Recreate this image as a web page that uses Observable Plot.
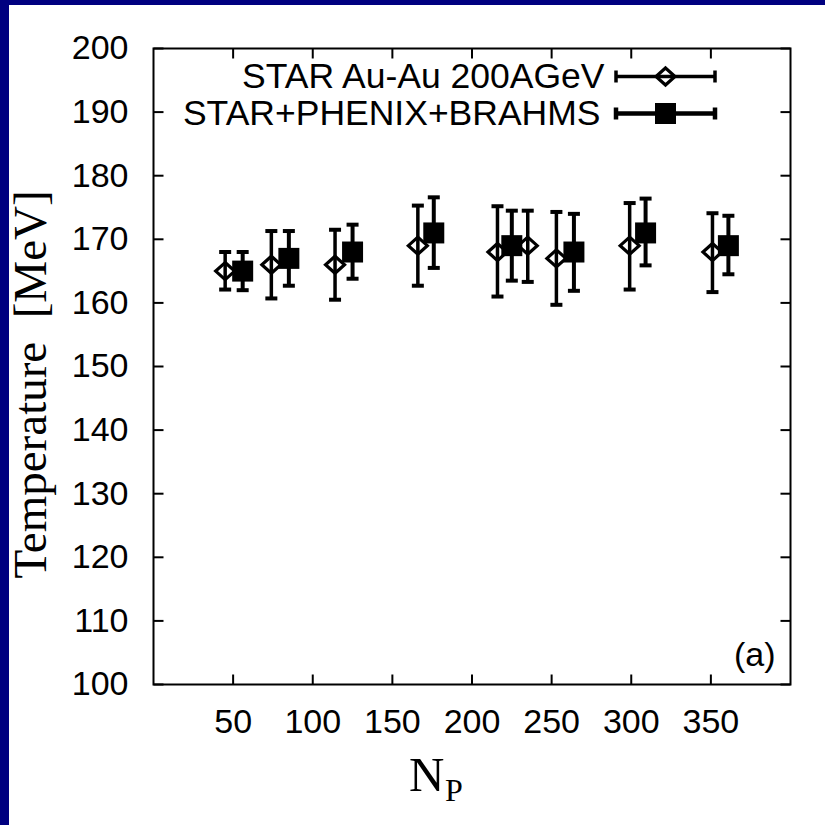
<!DOCTYPE html>
<html>
<head>
<meta charset="utf-8">
<script src="https://cdn.jsdelivr.net/npm/d3@7"></script>
<script src="https://cdn.jsdelivr.net/npm/@observablehq/plot@0.6"></script>
<style>
  html, body { margin: 0; padding: 0; background: #000080; width: 825px; height: 825px; overflow: hidden; }
  #chart { position: absolute; left: 9px; top: 5px; width: 816px; height: 820px; background: #ffffff; }
  #chart svg { display: block; overflow: visible; }
</style>
</head>
<body>
<div id="chart"></div>
<script>
// STAR Au-Au 200 AGeV: participants, temperature and error-bar limits (MeV)
const starNp = [45, 74, 114, 166, 216, 235, 253, 299, 351];
const starT  = [165, 166, 166, 169, 168, 169, 167, 169, 168];
const starLo = [162.1, 160.7, 160.5, 162.7, 161.0, 163.3, 159.7, 162.1, 161.7];
const starHi = [168.0, 171.3, 171.5, 175.3, 175.2, 174.5, 174.3, 175.7, 174.1];

// STAR+PHENIX+BRAHMS combined fit
const combNp = [56, 85, 125, 176, 225, 264, 309, 361];
const combT  = [165, 167, 168, 171, 169, 168, 171, 169];
const combLo = [162.0, 162.7, 163.8, 165.5, 163.5, 161.9, 165.9, 164.5];
const combHi = [168.0, 171.3, 172.3, 176.6, 174.5, 174.0, 176.4, 173.7];

const seriesNames = ["STAR Au-Au 200AGeV", "STAR+PHENIX+BRAHMS"];
const xTicks = [50, 100, 150, 200, 250, 300, 350];
const yTicks = [100, 110, 120, 130, 140, 150, 160, 170, 180, 190, 200];

const star = starNp.map((np, i) => ({np, t: starT[i], lo: starLo[i], hi: starHi[i]}));
const comb = combNp.map((np, i) => ({np, t: combT[i], lo: combLo[i], hi: combHi[i]}));

// custom symbols; the radius r (size = PI*r^2) sets the extent
const rad = (size) => Math.sqrt(size / Math.PI);
const tickUp    = {draw(c, s) { c.moveTo(0, 0); c.lineTo(0, -rad(s)); }};
const tickDown  = {draw(c, s) { c.moveTo(0, 0); c.lineTo(0, rad(s)); }};
const tickRight = {draw(c, s) { c.moveTo(0, 0); c.lineTo(rad(s), 0); }};
const tickLeft  = {draw(c, s) { c.moveTo(0, 0); c.lineTo(-rad(s), 0); }};
const cap       = {draw(c, s) { const w = rad(s); c.moveTo(-w, 0); c.lineTo(w, 0); }};
const diamond   = {draw(c, s) { const r = rad(s); c.moveTo(0, -r * 0.9); c.lineTo(r, 0); c.lineTo(0, r * 0.9); c.lineTo(-r, 0); c.closePath(); }};
const square    = {draw(c, s) { const r = rad(s); c.rect(-r, -r, 2 * r, 2 * r); }};
// horizontal error bar used as legend sample
const hbar      = {draw(c, s) { const w = rad(s); c.moveTo(-w, 0); c.lineTo(w, 0); c.moveTo(-w, -6); c.lineTo(-w, 6); c.moveTo(w, -6); c.lineTo(w, 6); }};

const sans = "'Liberation Sans', Arial, Helvetica, sans-serif";
const serif = "'Liberation Serif', 'Times New Roman', serif";

const errorBars = (data, width) => [
  Plot.ruleX(data, {x: "np", y1: "lo", y2: "hi", stroke: "black", strokeWidth: width}),
  Plot.dot(data, {x: "np", y: "lo", symbol: cap, r: 6, stroke: "black", strokeWidth: 4, fill: "none"}),
  Plot.dot(data, {x: "np", y: "hi", symbol: cap, r: 6, stroke: "black", strokeWidth: 4, fill: "none"})
];

const chart = Plot.plot({
  width: 816,
  height: 820,
  marginLeft: 144,
  marginRight: 35,
  marginTop: 43,
  marginBottom: 141,
  x: {domain: [0, 400]},
  y: {domain: [100, 200]},
  style: {background: "white", color: "black", fontFamily: sans, fontSize: "34px", overflow: "visible"},
  marks: [
    Plot.frame({stroke: "black", strokeWidth: 2}),
    Plot.axisX(xTicks, {anchor: "bottom", tickSize: 0, tickPadding: 24, label: null, fontSize: 34}),
    Plot.axisY(yTicks, {anchor: "left", tickSize: 0, tickPadding: 25, label: null, fontSize: 34}),
    // inward ticks on all four sides
    Plot.dot(xTicks, {x: d => d, frameAnchor: "bottom", symbol: tickUp, r: 10, stroke: "black", strokeWidth: 2}),
    Plot.dot(xTicks, {x: d => d, frameAnchor: "top", symbol: tickDown, r: 10, stroke: "black", strokeWidth: 2}),
    Plot.dot(yTicks, {y: d => d, frameAnchor: "left", symbol: tickRight, r: 10, stroke: "black", strokeWidth: 2}),
    Plot.dot(yTicks, {y: d => d, frameAnchor: "right", symbol: tickLeft, r: 10, stroke: "black", strokeWidth: 2}),

    // data
    ...errorBars(star, 3.5),
    Plot.dot(star, {x: "np", y: "t", symbol: diamond, r: 9.5, stroke: "black", strokeWidth: 3.2, fill: "none"}),
    ...errorBars(comb, 4),
    Plot.dot(comb, {x: "np", y: "t", symbol: square, r: 10.5, fill: "black", stroke: "none"}),

    // legend
    Plot.text([seriesNames[0]], {text: d => d, frameAnchor: "top-right", dx: -186, dy: 28, textAnchor: "end", lineAnchor: "middle", fontSize: 35.5}),
    Plot.text([seriesNames[1]], {text: d => d, frameAnchor: "top-right", dx: -190, dy: 65, textAnchor: "end", lineAnchor: "middle", fontSize: 35.5}),
    Plot.dot([0], {frameAnchor: "top-right", dx: -125, dy: 28, symbol: hbar, r: 49.5, stroke: "black", strokeWidth: 3.5, fill: "none"}),
    Plot.dot([0], {frameAnchor: "top-right", dx: -125, dy: 28, symbol: diamond, r: 9.5, stroke: "black", strokeWidth: 3.2, fill: "none"}),
    Plot.dot([0], {frameAnchor: "top-right", dx: -125, dy: 65, symbol: hbar, r: 49.5, stroke: "black", strokeWidth: 4.5, fill: "none"}),
    Plot.dot([0], {frameAnchor: "top-right", dx: -125, dy: 65, symbol: square, r: 10.5, fill: "black", stroke: "none"}),

    // panel tag
    Plot.text(["(a)"], {text: d => d, frameAnchor: "bottom-right", dx: -15, dy: -29, textAnchor: "end", lineAnchor: "middle", fontSize: 34}),

    // axis titles
    Plot.text(["Temperature\u00a0\u00a0[MeV]"], {text: d => d, frameAnchor: "left", dx: -108, dy: 18, rotate: -90, textAnchor: "middle", lineAnchor: "bottom", fontSize: 47, fontFamily: serif}),
    Plot.text(["N"], {text: d => d, frameAnchor: "bottom", dx: -63, dy: 106, textAnchor: "start", lineAnchor: "bottom", fontSize: 49, fontFamily: serif}),
    Plot.text(["P"], {text: d => d, frameAnchor: "bottom", dx: -27, dy: 116, textAnchor: "start", lineAnchor: "bottom", fontSize: 32, fontFamily: serif})
  ]
});

document.getElementById("chart").appendChild(chart);
</script>
</body>
</html>
